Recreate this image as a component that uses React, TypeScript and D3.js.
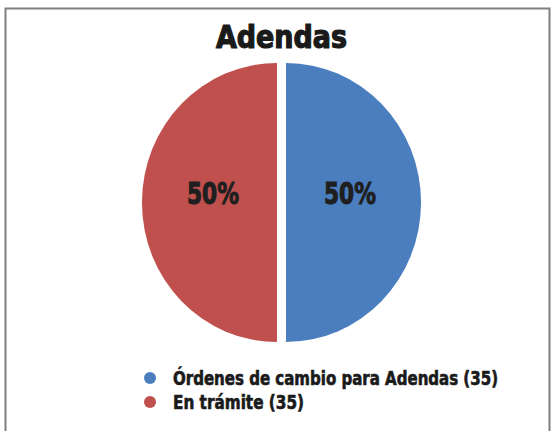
import React from "react";
import * as d3 from "d3";

const categories = ["Órdenes de cambio para Adendas", "En trámite"];
const values = [35, 35];
const colors = ["#4A7EBF", "#C0504D"];
const title = "Adendas";

const W = 551;
const H = 431;
const cx = 281.5;
const cy = 202.5;
const R = 139.5;
const sx = 0.968;
const explode = 4.5;
const FONT = "'Liberation Sans Narrow', 'DejaVu Sans Condensed', 'Arial Narrow', sans-serif";

export default function App() {
  const total = d3.sum(values);
  const pie = d3.pie<number>().sort(null).value((d) => d)(values);
  const arc = d3.arc<d3.PieArcDatum<number>>().innerRadius(0).outerRadius(R);
  const labelArc = d3.arc<d3.PieArcDatum<number>>().innerRadius(64).outerRadius(64);
  const pct = d3.format(".0%");

  return (
    <svg
      width={W}
      height={H}
      style={{ position: "absolute", left: 0, top: 0, background: "#fff" }}
    >
      <rect x={5.5} y={8.5} width={544} height={440} fill="#fff" stroke="#7f7f7f" strokeWidth={2} />
      <text
        x={cx}
        y={48}
        textAnchor="middle"
        fontFamily={FONT}
        fontWeight="bold"
        fontSize={32}
        fill="#1a1a1a"
        stroke="#1a1a1a"
        strokeWidth={1.2}
        textLength={131}
        lengthAdjust="spacingAndGlyphs"
      >
        {title}
      </text>
      {pie.map((p, i) => {
        const mid = (p.startAngle + p.endAngle) / 2;
        const dx = Math.sin(mid) * explode;
        const dy = -Math.cos(mid) * explode;
        const [lx, ly] = labelArc.centroid(p);
        return (
          <g key={i} transform={`translate(${cx + dx},${cy + dy})`}>
            <path d={arc(p) || ""} fill={colors[i]} transform={`scale(${sx},1)`} />
            <text
              x={lx}
              y={ly + 1.5}
              textAnchor="middle"
              fontFamily={FONT}
              fontWeight="bold"
              fontSize={31}
              fill="#1f1f1f"
              stroke="#1f1f1f"
              strokeWidth={1}
              textLength={52}
              lengthAdjust="spacingAndGlyphs"
            >
              {pct(values[i] / total)}
            </text>
          </g>
        );
      })}
      {categories.map((c, i) => (
        <g key={c} transform={`translate(150,${378 + i * 24})`}>
          <circle r={6} fill={colors[i]} />
          <text
            x={23}
            y={7}
            fontFamily={FONT}
            fontWeight="bold"
            fontSize={19}
            fill="#1a1a1a"
            stroke="#1a1a1a"
            strokeWidth={0.6}
            textLength={i === 0 ? 325 : 131}
            lengthAdjust="spacingAndGlyphs"
          >
            {`${c} (${values[i]})`}
          </text>
        </g>
      ))}
    </svg>
  );
}
